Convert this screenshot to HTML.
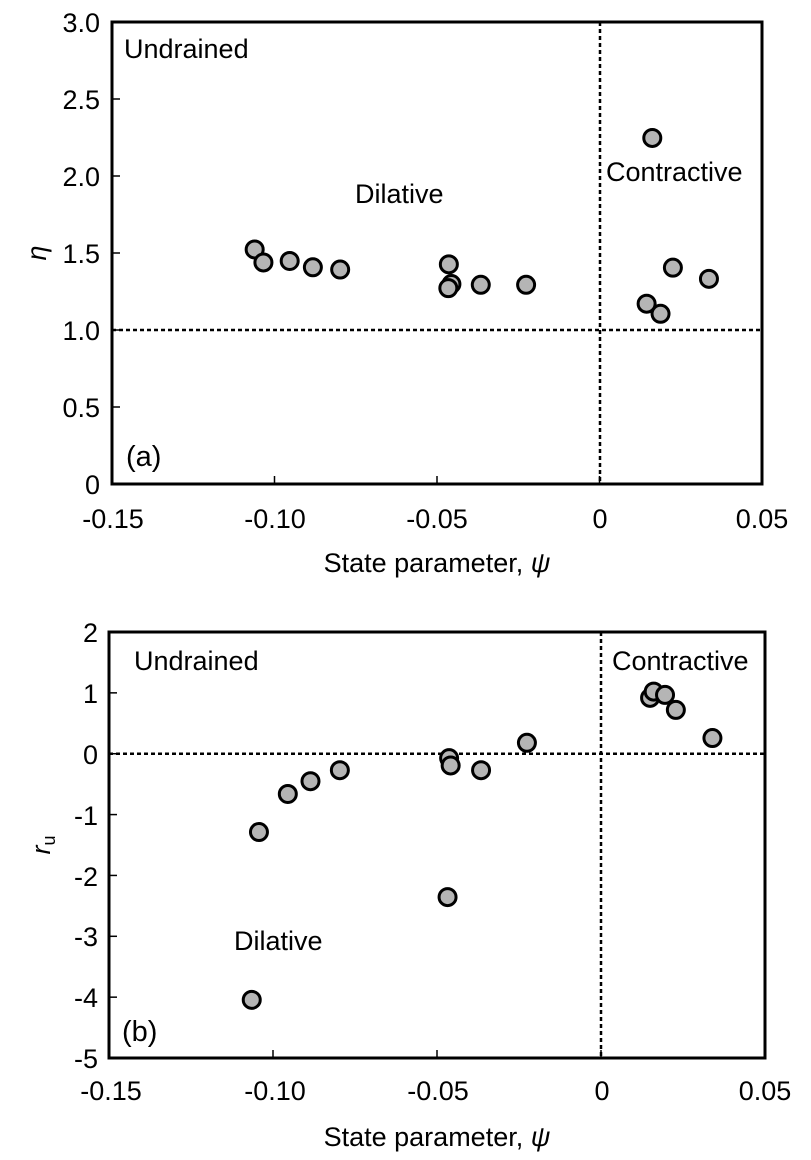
<!DOCTYPE html>
<html><head><meta charset="utf-8"><style>
html,body{margin:0;padding:0;background:#fff;}
svg{display:block;font-family:"Liberation Sans",Arial,sans-serif;}
</style></head><body>
<svg id="s" width="811" height="1160" viewBox="0 0 811 1160" xmlns="http://www.w3.org/2000/svg">
<g fill="none" stroke="#000">
<rect x="112" y="22" width="650" height="462" stroke-width="3"/>
<line x1="112" y1="330" x2="762" y2="330" stroke-width="2.5" stroke-dasharray="4,3"/>
<line x1="600" y1="22" x2="600" y2="484" stroke-width="2.5" stroke-dasharray="4,3"/>
<rect x="109" y="632" width="656" height="426" stroke-width="3"/>
<line x1="109" y1="753.7" x2="765" y2="753.7" stroke-width="2.5" stroke-dasharray="4,3"/>
<line x1="601" y1="632" x2="601" y2="1058" stroke-width="2.5" stroke-dasharray="4,3"/>
</g>
<g id="ticks" stroke="#000" stroke-width="1.5"></g>
<g font-size="27" fill="#000">
<g text-anchor="end">
<text x="100" y="32">3.0</text><text x="100" y="109">2.5</text><text x="100" y="186">2.0</text><text x="100" y="263">1.5</text><text x="100" y="340">1.0</text><text x="100" y="417">0.5</text><text x="100" y="494">0</text>
<text x="98" y="642">2</text><text x="98" y="703">1</text><text x="98" y="764">0</text><text x="98" y="825">-1</text><text x="98" y="886">-2</text><text x="98" y="946">-3</text><text x="98" y="1007">-4</text><text x="98" y="1068">-5</text>
</g>
<g text-anchor="middle">
<text x="113" y="528">-0.15</text><text x="275" y="528">-0.10</text><text x="437" y="528">-0.05</text><text x="600" y="528">0</text><text x="762" y="528">0.05</text>
<text x="111" y="1100">-0.15</text><text x="275" y="1100">-0.10</text><text x="438" y="1100">-0.05</text><text x="602" y="1100">0</text><text x="765" y="1100">0.05</text>
<text x="437" y="572">State parameter, <tspan font-style="italic">ψ</tspan></text>
<text x="437" y="1146">State parameter, <tspan font-style="italic">ψ</tspan></text>
</g>
<text x="124" y="58">Undrained</text>
<text x="355" y="203">Dilative</text>
<text x="606" y="181">Contractive</text>
<text x="126" y="466" font-size="29">(a)</text>
<text x="134" y="670">Undrained</text>
<text x="234" y="950">Dilative</text>
<text x="612" y="670">Contractive</text>
<text x="122" y="1041" font-size="29">(b)</text>
<text transform="translate(46,253) rotate(-90)" text-anchor="middle" font-style="italic">η</text>
<text transform="translate(50,845) rotate(-90)" text-anchor="middle" font-style="italic">r<tspan font-size="18" font-style="normal" dy="5">u</tspan></text>
</g>
<g id="pts" fill="#b5b5b5" stroke="#000" stroke-width="3"></g>
</svg>
<script>
var ns="http://www.w3.org/2000/svg",g=document.getElementById("pts"),t=document.getElementById("ticks");
function c(x,y){var e=document.createElementNS(ns,"circle");e.setAttribute("cx",x);e.setAttribute("cy",y);e.setAttribute("r",8.5);g.appendChild(e);}
function l(a,b,c2,d){var e=document.createElementNS(ns,"line");e.setAttribute("x1",a);e.setAttribute("y1",b);e.setAttribute("x2",c2);e.setAttribute("y2",d);t.appendChild(e);}
var A=[[490,672],[507,707],[558,703],[603,720],[656,726],[867,712],[872,765],[866,776],[929,767],[1017,767],[1262,372],[1251,818],[1278,845],[1302,721],[1372,751]];
A.forEach(function(p){c(112+(p[0]-213)*650/1262,22+(p[1]-60)*462/1243);});
var B=[[498,682],[554,578],[598,543],[655,513],[867,480],[870,500],[929,513],[1018,438],[864,860],[484,1141],[1257,315],[1264,298],[1286,307],[1307,348],[1378,425]];
B.forEach(function(p){c(109+(p[0]-207)*656/1273,632+(p[1]-135)*426/1165);});
for(var i=0;i<=4;i++){var x=112+i*162.5;l(x,484,x,476);var x2=109+i*164;l(x2,1058,x2,1050);}
for(var i=0;i<=6;i++){var y=22+i*77;l(112,y,120,y);}
for(var i=0;i<=7;i++){var y=632+i*60.86;l(109,y,117,y);}
</script>
</body></html>
